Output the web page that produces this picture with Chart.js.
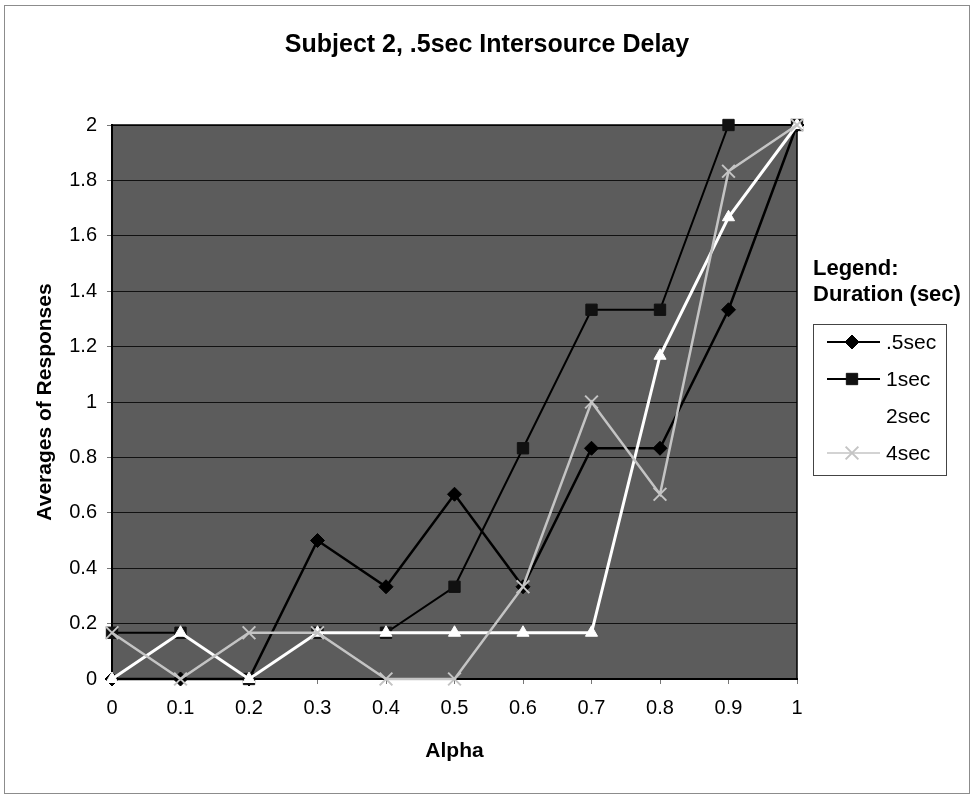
<!DOCTYPE html>
<html>
<head>
<meta charset="utf-8">
<title>Subject 2, .5sec Intersource Delay</title>
<script src="https://cdn.jsdelivr.net/npm/chart.js@4.4.1/dist/chart.umd.min.js"></script>
<style>
  html, body { margin: 0; padding: 0; background: #fff; }
  #wrap { width: 974px; height: 795px; }
</style>
</head>
<body>
<div id="wrap"><canvas id="chart" width="974" height="795"></canvas></div>
<script>
// alpha values along the x axis
const alpha = ['0', '0.1', '0.2', '0.3', '0.4', '0.5', '0.6', '0.7', '0.8', '0.9', '1'];
// average responses per stimulus duration
const dur05 = [0, 0, 0, 0.5, 0.333, 0.667, 0.333, 0.833, 0.833, 1.333, 2];
const dur1 = [0.167, 0.167, 0, 0.167, 0.167, 0.333, 0.833, 1.333, 1.333, 2, 2];
const dur2 = [0, 0.167, 0, 0.167, 0.167, 0.167, 0.167, 0.167, 1.167, 1.667, 2];
const dur4 = [0.167, 0, 0.167, 0.167, 0, 0, 0.333, 1, 0.667, 1.833, 2];
const seriesNames = ['.5sec', '1sec', '2sec', '4sec'];

const FONT = 'Liberation Sans, Arial, sans-serif';

// grey plot area, outer frame and plot border
const plotBg = {
  id: 'plotBg',
  beforeDraw(chart) {
    const ctx = chart.ctx, a = chart.chartArea;
    ctx.save();
    ctx.fillStyle = '#fff';
    ctx.fillRect(0, 0, chart.width, chart.height);
    ctx.strokeStyle = '#8c8c8c';
    ctx.lineWidth = 1;
    ctx.strokeRect(4.5, 5.5, 965, 788);
    ctx.fillStyle = '#5c5c5c';
    ctx.fillRect(a.left, a.top, a.right - a.left, a.bottom - a.top);
    ctx.restore();
  },
  beforeDatasetsDraw(chart) {
    const ctx = chart.ctx, a = chart.chartArea;
    ctx.save();
    ctx.strokeStyle = '#000';
    ctx.lineWidth = 1.5;
    ctx.beginPath();
    ctx.moveTo(a.left, a.top);
    ctx.lineTo(a.right, a.top);
    ctx.lineTo(a.right, a.bottom);
    ctx.stroke();
    ctx.restore();
  }
};

// boxed legend with a two line heading
const boxLegend = {
  id: 'boxLegend',
  afterDraw(chart) {
    const ctx = chart.ctx;
    const x0 = 813, top = 324, w = 133, h = 151;
    ctx.save();
    ctx.fillStyle = '#000';
    ctx.font = 'bold 22px ' + FONT;
    ctx.textBaseline = 'middle';
    ctx.textAlign = 'left';
    ctx.fillText('Legend:', x0, 269);
    ctx.fillText('Duration (sec)', x0, 295);
    ctx.strokeStyle = '#444';
    ctx.lineWidth = 1;
    ctx.strokeRect(x0 + 0.5, top + 0.5, w, h);
    const rowY = [342, 379, 416, 453];
    chart.data.datasets.forEach((ds, i) => {
      const y = rowY[i];
      ctx.strokeStyle = ds.borderColor;
      ctx.lineWidth = ds.legendLine;
      ctx.beginPath();
      ctx.moveTo(827, y);
      ctx.lineTo(880, y);
      ctx.stroke();
      ctx.fillStyle = ds.pointBackgroundColor;
      ctx.strokeStyle = ds.pointBorderColor;
      ctx.lineWidth = ds.pointBorderWidth;
      Chart.helpers.drawPoint(ctx, {
        pointStyle: ds.pointStyle, radius: ds.pointRadius, rotation: 0, borderWidth: ds.pointBorderWidth
      }, 852, y);
      ctx.fillStyle = '#000';
      ctx.font = '21px ' + FONT;
      ctx.fillText(ds.label, 886, y + 1);
    });
    ctx.restore();
  }
};

const data = {
  labels: alpha,
  datasets: [
    { label: seriesNames[0], data: dur05, borderColor: '#000', borderWidth: 2.5, legendLine: 2,
      pointStyle: 'rectRot', pointRadius: 7, pointBackgroundColor: '#000', pointBorderColor: '#000',
      pointBorderWidth: 1, order: 4 },
    { label: seriesNames[1], data: dur1, borderColor: '#000', borderWidth: 2, legendLine: 2,
      pointStyle: 'rect', pointRadius: 8, pointBackgroundColor: '#111', pointBorderColor: '#111',
      pointBorderWidth: 1, order: 3 },
    { label: seriesNames[2], data: dur2, borderColor: '#fff', borderWidth: 3, legendLine: 2,
      pointStyle: 'triangle', pointRadius: 7, pointBackgroundColor: '#fff', pointBorderColor: '#fff',
      pointBorderWidth: 1, order: 2 },
    { label: seriesNames[3], data: dur4, borderColor: '#c4c4c4', borderWidth: 2.5, legendLine: 1.5,
      pointStyle: 'crossRot', pointRadius: 9, pointBackgroundColor: '#c4c4c4', pointBorderColor: '#c4c4c4',
      pointBorderWidth: 2, order: 1 }
  ]
};

new Chart('chart', {
  type: 'line',
  data: data,
  plugins: [plotBg, boxLegend],
  options: {
    responsive: false,
    animation: false,
    events: [],
    layout: { padding: 0 },
    elements: { line: { tension: 0 } },
    datasets: { line: { clip: false } },
    plugins: {
      legend: { display: false },
      tooltip: { enabled: false },
      title: {
        display: true,
        text: 'Subject 2, .5sec Intersource Delay',
        color: '#000',
        font: { family: FONT, size: 25, weight: 'bold', lineHeight: 1.2 },
        padding: { top: 30, bottom: 65 }
      }
    },
    scales: {
      x: {
        type: 'category',
        offset: false,
        afterFit(scale) { scale.height = 116; },
        grid: { drawOnChartArea: false, drawTicks: true, tickLength: 5, tickColor: '#777', offset: false },
        border: { display: true, color: '#000', width: 2 },
        ticks: { color: '#000', padding: 12, maxRotation: 0, autoSkip: false,
          font: { family: FONT, size: 20 } },
        title: { display: true, text: 'Alpha', color: '#000',
          font: { family: FONT, size: 21, weight: 'bold', lineHeight: 1.2 },
          padding: { top: 0, bottom: 31 } }
      },
      y: {
        min: 0,
        max: 2,
        afterFit(scale) { scale.width = 112; },
        grid: { color: '#111', lineWidth: 1, drawTicks: true, tickLength: 5, tickColor: '#777' },
        border: { display: true, color: '#000', width: 2 },
        ticks: { stepSize: 0.2, color: '#000', padding: 10,
          font: { family: FONT, size: 20 },
          callback: v => String(+v.toFixed(1)) },
        title: { display: true, text: 'Averages of Responses', color: '#000',
          font: { family: FONT, size: 21, weight: 'bold', lineHeight: 1.2 },
          padding: { top: 33, bottom: 0 } }
      },
      // empty axis that reserves the space on the right for the legend box
      side: {
        position: 'right',
        display: true,
        afterFit(scale) { scale.width = 177; },
        grid: { display: false, drawTicks: false },
        border: { display: false },
        ticks: { display: false }
      }
    }
  }
});
</script>
</body>
</html>
